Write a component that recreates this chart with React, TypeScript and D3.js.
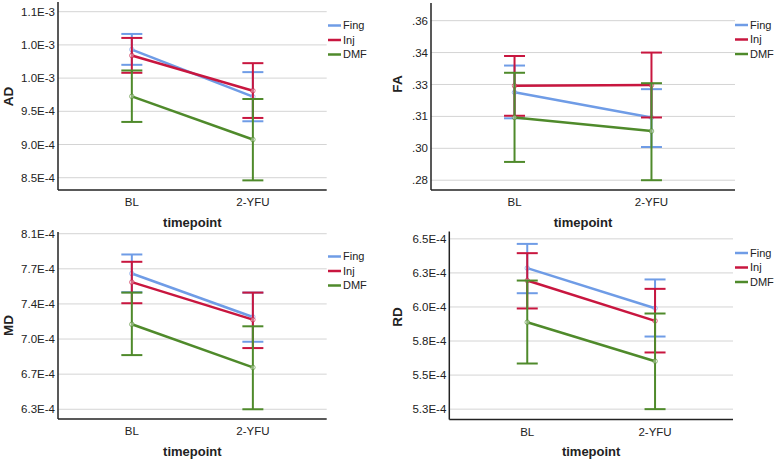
import React from "react";
import * as d3 from "d3";

// ---------- data ----------
const categories = ["BL", "2-YFU"];
const groups = ["Fing", "Inj", "DMF"];
const groupColors = ["#6f9ce6", "#c8163f", "#4f8a2b"];

// AD (mean, lower CI, upper CI) per group, per timepoint
const adMean = [[1.043e-3, 0.972e-3], [1.034e-3, 0.981e-3], [0.9725e-3, 0.9075e-3]];
const adLow = [[1.02e-3, 0.935e-3], [1.008e-3, 0.94e-3], [0.934e-3, 0.846e-3]];
const adHigh = [[1.0665e-3, 1.009e-3], [1.0605e-3, 1.0225e-3], [1.0115e-3, 0.9685e-3]];
const adTicks = [0.85e-3, 0.9e-3, 0.95e-3, 1.0e-3, 1.05e-3, 1.1e-3];
const adTickLabels = ["8.5E-4", "9.0E-4", "9.5E-4", "1.0E-3", "1.0E-3", "1.1E-3"];

const faMean = [[0.3263, 0.3145], [0.3294, 0.3297], [0.3145, 0.3081]];
const faLow = [[0.3141, 0.3006], [0.3153, 0.3145], [0.2936, 0.285]];
const faHigh = [[0.3389, 0.3278], [0.3434, 0.345], [0.3355, 0.3306]];
const faTicks = [0.285, 0.3, 0.315, 0.33, 0.345, 0.36];
const faTickLabels = [".28", ".30", ".31", ".33", ".34", ".36"];

const mdMean = [[7.653e-4, 7.22e-4], [7.567e-4, 7.193e-4], [7.147e-4, 6.717e-4]];
const mdLow = [[7.467e-4, 6.973e-4], [7.357e-4, 6.91e-4], [6.84e-4, 6.3e-4]];
const mdHigh = [[7.843e-4, 7.463e-4], [7.77e-4, 7.463e-4], [7.463e-4, 7.127e-4]];
const mdTicks = [6.3e-4, 6.65e-4, 7.0e-4, 7.35e-4, 7.7e-4, 8.05e-4];
const mdTickLabels = ["6.3E-4", "6.7E-4", "7.0E-4", "7.4E-4", "7.7E-4", "8.1E-4"];

const rdMean = [[6.285e-4, 5.991e-4], [6.194e-4, 5.898e-4], [5.888e-4, 5.602e-4]];
const rdLow = [[6.101e-4, 5.783e-4], [5.989e-4, 5.666e-4], [5.585e-4, 5.25e-4]];
const rdHigh = [[6.463e-4, 6.202e-4], [6.395e-4, 6.133e-4], [6.194e-4, 5.952e-4]];
const rdTicks = [5.25e-4, 5.5e-4, 5.75e-4, 6.0e-4, 6.25e-4, 6.5e-4];
const rdTickLabels = ["5.3E-4", "5.5E-4", "5.8E-4", "6.0E-4", "6.3E-4", "6.5E-4"];

// ---------- layout ----------
const panels = [
  { title: "AD", mean: adMean, low: adLow, high: adHigh, ticks: adTicks, tickLabels: adTickLabels,
    domain: [0.8315e-3, 1.1146e-3], left: 58, right: 326.7, top: 2, bottom: 190,
    labelX: 8.5, labelY: 96.5, legX: 328, legY: 25.5 },
  { title: "FA", mean: faMean, low: faLow, high: faHigh, ticks: faTicks, tickLabels: faTickLabels,
    domain: [0.2804, 0.3683], left: 431, right: 735, top: 3, bottom: 190,
    labelX: 397.5, labelY: 84, legX: 735, legY: 25 },
  { title: "MD", mean: mdMean, low: mdLow, high: mdHigh, ticks: mdTicks, tickLabels: mdTickLabels,
    domain: [6.203e-4, 8.067e-4], left: 58, right: 326.7, top: 232, bottom: 419,
    labelX: 8.5, labelY: 325.5, legX: 328, legY: 256.5 },
  { title: "RD", mean: rdMean, low: rdLow, high: rdHigh, ticks: rdTicks, tickLabels: rdTickLabels,
    domain: [5.174e-4, 6.554e-4], left: 449.3, right: 733, top: 231.5, bottom: 419.5,
    labelX: 397.5, labelY: 317, legX: 735, legY: 253 },
];

const FONT = "'Liberation Sans', Arial, sans-serif";

function Panel({ p }: { p: any }) {
  const x = d3.scalePoint<string>().domain(categories).range([p.left, p.right]).padding(0.61);
  const y = d3.scaleLinear().domain(p.domain).range([p.bottom, p.top]);
  const line = d3
    .line<number>()
    .x((_, i) => x(categories[i]) as number)
    .y((d) => y(d));
  const capHalf = 10.5;
  return (
    <g>
      {p.ticks.map((t: number, i: number) => (
        <g key={"t" + i}>
          <line x1={p.left} x2={p.right} y1={y(t)} y2={y(t)} stroke="#d4d4d4" strokeWidth={1} />
          <text x={p.left - 3} y={y(t)} dy="0.35em" textAnchor="end" fontSize={11.5} fill="#222" fontFamily={FONT}>
            {p.tickLabels[i]}
          </text>
        </g>
      ))}
      {groups.map((g, gi) => (
        <g key={g}>
          {categories.map((c, ci) => {
            const cx = x(c) as number;
            return (
              <g key={c}>
                <line x1={cx} x2={cx} y1={y(p.low[gi][ci])} y2={y(p.high[gi][ci])} stroke={groupColors[gi]} strokeWidth={2} />
                <line x1={cx - capHalf} x2={cx + capHalf} y1={y(p.low[gi][ci])} y2={y(p.low[gi][ci])} stroke={groupColors[gi]} strokeWidth={2} />
                <line x1={cx - capHalf} x2={cx + capHalf} y1={y(p.high[gi][ci])} y2={y(p.high[gi][ci])} stroke={groupColors[gi]} strokeWidth={2} />
              </g>
            );
          })}
          <path d={line(p.mean[gi]) || ""} fill="none" stroke={groupColors[gi]} strokeWidth={2.5} />
          {categories.map((c, ci) => (
            <circle key={"m" + c} cx={x(c) as number} cy={y(p.mean[gi][ci])} r={2.3}
              fill="#fff" fillOpacity={0.35} stroke={groupColors[gi]} strokeOpacity={0.6} strokeWidth={1} />
          ))}
        </g>
      ))}
      <line x1={p.left} x2={p.left} y1={p.top} y2={p.bottom} stroke="#222" strokeWidth={1.5} />
      <line x1={p.left} x2={p.right} y1={p.bottom} y2={p.bottom} stroke="#222" strokeWidth={1.5} />
      {categories.map((c) => (
        <text key={"c" + c} x={x(c) as number} y={p.bottom + 12} dy="0.35em" textAnchor="middle" fontSize={11.5} fill="#222" fontFamily={FONT}>
          {c}
        </text>
      ))}
      <text x={(p.left + p.right) / 2} y={p.bottom + 32} dy="0.35em" textAnchor="middle" fontSize={13} fontWeight="bold" fill="#222" fontFamily={FONT}>
        timepoint
      </text>
      <text transform={`translate(${p.labelX},${p.labelY}) rotate(-90)`} dy="0.35em" textAnchor="middle" fontSize={13.5} fontWeight="bold" fill="#222" fontFamily={FONT}>
        {p.title}
      </text>
      {groups.map((g, gi) => (
        <g key={"l" + g}>
          <line x1={p.legX} x2={p.legX + 13} y1={p.legY + gi * 14.5} y2={p.legY + gi * 14.5} stroke={groupColors[gi]} strokeWidth={2.5} />
          <text x={p.legX + 15} y={p.legY + gi * 14.5} dy="0.35em" fontSize={11} fill="#222" fontFamily={FONT}>
            {g}
          </text>
        </g>
      ))}
    </g>
  );
}

export default function App() {
  return (
    <svg width={779} height={459} style={{ position: "absolute", left: 0, top: 0, background: "#fff" }}>
      <rect width={779} height={459} fill="#fff" />
      {panels.map((p) => (
        <Panel key={p.title} p={p} />
      ))}
    </svg>
  );
}
